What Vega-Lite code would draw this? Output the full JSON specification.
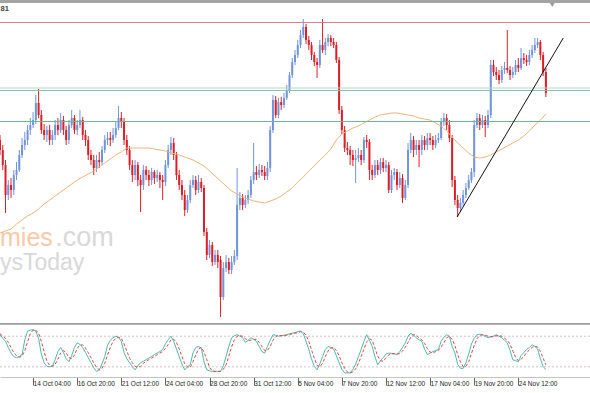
{
"$schema": "https://vega.github.io/schema/vega-lite/v6.json",
"padding": 0,
"background": "white",
"spacing": 0,
"config": {"view": {"stroke": null}, "scale": {"continuousPadding": 0}},
"datasets": {
"bars": [
{"i":0,"o":1.3260,"h":1.3265,"l":1.3245,"c":1.3250,"ma":1.3167,"k":83,"d":85},
{"i":1,"o":1.3250,"h":1.3255,"l":1.3230,"c":1.3235,"k":76,"d":80},
{"i":2,"o":1.3235,"h":1.3240,"l":1.3187,"c":1.3205,"ma":1.3169,"k":70,"d":76},
{"i":3,"o":1.3205,"h":1.3220,"l":1.3200,"c":1.3215,"k":58,"d":68},
{"i":4,"o":1.3215,"h":1.3222,"l":1.3202,"c":1.3210,"ma":1.3171,"k":47,"d":58},
{"i":5,"o":1.3210,"h":1.3230,"l":1.3205,"c":1.3225,"k":40,"d":48},
{"i":6,"o":1.3225,"h":1.3238,"l":1.3220,"c":1.3230,"ma":1.3176,"k":38,"d":42},
{"i":7,"o":1.3230,"h":1.3250,"l":1.3228,"c":1.3245,"k":40,"d":39},
{"i":8,"o":1.3245,"h":1.3262,"l":1.3242,"c":1.3255,"ma":1.3180,"k":44,"d":41},
{"i":9,"o":1.3255,"h":1.3268,"l":1.3250,"c":1.3260,"k":73,"d":52},
{"i":10,"o":1.3260,"h":1.3275,"l":1.3255,"c":1.3270,"ma":1.3184,"k":90,"d":69},
{"i":11,"o":1.3270,"h":1.3282,"l":1.3265,"c":1.3275,"k":92,"d":85},
{"i":12,"o":1.3275,"h":1.3288,"l":1.3272,"c":1.3280,"ma":1.3187,"k":93,"d":92},
{"i":13,"o":1.3280,"h":1.3305,"l":1.3276,"c":1.3297,"k":90,"d":92},
{"i":14,"o":1.3297,"h":1.3311,"l":1.3282,"c":1.3285,"ma":1.3191,"k":76,"d":86},
{"i":15,"o":1.3285,"h":1.3290,"l":1.3266,"c":1.3270,"k":45,"d":70},
{"i":16,"o":1.3270,"h":1.3276,"l":1.3260,"c":1.3265,"ma":1.3196,"k":28,"d":50},
{"i":17,"o":1.3265,"h":1.3274,"l":1.3258,"c":1.3270,"k":21,"d":31},
{"i":18,"o":1.3270,"h":1.3275,"l":1.3255,"c":1.3260,"ma":1.3200,"k":20,"d":23},
{"i":19,"o":1.3260,"h":1.3270,"l":1.3255,"c":1.3265,"k":21,"d":21},
{"i":20,"o":1.3265,"h":1.3280,"l":1.3260,"c":1.3275,"ma":1.3204,"k":34,"d":25},
{"i":21,"o":1.3275,"h":1.3282,"l":1.3265,"c":1.3270,"k":50,"d":35},
{"i":22,"o":1.3270,"h":1.3287,"l":1.3267,"c":1.3280,"ma":1.3208,"k":58,"d":47},
{"i":23,"o":1.3280,"h":1.3284,"l":1.3265,"c":1.3270,"k":48,"d":52},
{"i":24,"o":1.3270,"h":1.3274,"l":1.3255,"c":1.3260,"ma":1.3212,"k":36,"d":47},
{"i":25,"o":1.3260,"h":1.3280,"l":1.3256,"c":1.3275,"k":30,"d":38},
{"i":26,"o":1.3275,"h":1.3290,"l":1.3272,"c":1.3282,"ma":1.3216,"k":42,"d":36},
{"i":27,"o":1.3282,"h":1.3285,"l":1.3266,"c":1.3270,"k":58,"d":43},
{"i":28,"o":1.3270,"h":1.3280,"l":1.3265,"c":1.3275,"ma":1.3220,"k":67,"d":56},
{"i":29,"o":1.3275,"h":1.3290,"l":1.3272,"c":1.3280,"k":64,"d":63},
{"i":30,"o":1.3280,"h":1.3283,"l":1.3260,"c":1.3265,"ma":1.3223,"k":58,"d":63},
{"i":31,"o":1.3265,"h":1.3270,"l":1.3254,"c":1.3260,"k":48,"d":57},
{"i":32,"o":1.3260,"h":1.3264,"l":1.3240,"c":1.3245,"ma":1.3226,"k":38,"d":48},
{"i":33,"o":1.3245,"h":1.3250,"l":1.3235,"c":1.3240,"k":28,"d":38},
{"i":34,"o":1.3240,"h":1.3245,"l":1.3225,"c":1.3232,"ma":1.3229,"k":18,"d":28},
{"i":35,"o":1.3232,"h":1.3245,"l":1.3228,"c":1.3240,"k":11,"d":19},
{"i":36,"o":1.3240,"h":1.3248,"l":1.3232,"c":1.3238,"ma":1.3233,"k":14,"d":14},
{"i":37,"o":1.3238,"h":1.3254,"l":1.3235,"c":1.3250,"k":26,"d":17},
{"i":38,"o":1.3250,"h":1.3265,"l":1.3247,"c":1.3260,"ma":1.3237,"k":40,"d":27},
{"i":39,"o":1.3260,"h":1.3268,"l":1.3255,"c":1.3262,"k":62,"d":43},
{"i":40,"o":1.3262,"h":1.3268,"l":1.3254,"c":1.3260,"ma":1.3241,"k":72,"d":58},
{"i":41,"o":1.3260,"h":1.3272,"l":1.3257,"c":1.3265,"k":77,"d":70},
{"i":42,"o":1.3265,"h":1.3278,"l":1.3262,"c":1.3272,"ma":1.3245,"k":80,"d":76},
{"i":43,"o":1.3272,"h":1.3294,"l":1.3270,"c":1.3282,"k":78,"d":78},
{"i":44,"o":1.3282,"h":1.3288,"l":1.3272,"c":1.3278,"ma":1.3248,"k":70,"d":76},
{"i":45,"o":1.3278,"h":1.3282,"l":1.3255,"c":1.3260,"k":48,"d":65},
{"i":46,"o":1.3260,"h":1.3265,"l":1.3245,"c":1.3250,"ma":1.3252,"k":36,"d":51},
{"i":47,"o":1.3250,"h":1.3254,"l":1.3230,"c":1.3235,"k":28,"d":37},
{"i":48,"o":1.3235,"h":1.3240,"l":1.3218,"c":1.3225,"ma":1.3252,"k":20,"d":28},
{"i":49,"o":1.3225,"h":1.3240,"l":1.3220,"c":1.3235,"k":14,"d":21},
{"i":50,"o":1.3235,"h":1.3238,"l":1.3214,"c":1.3220,"ma":1.3252,"k":22,"d":19},
{"i":51,"o":1.3220,"h":1.3225,"l":1.3188,"c":1.3215,"k":28,"d":21},
{"i":52,"o":1.3215,"h":1.3235,"l":1.3210,"c":1.3230,"ma":1.3252,"k":31,"d":27},
{"i":53,"o":1.3230,"h":1.3234,"l":1.3220,"c":1.3225,"k":34,"d":31},
{"i":54,"o":1.3225,"h":1.3230,"l":1.3214,"c":1.3220,"ma":1.3252,"k":37,"d":34},
{"i":55,"o":1.3220,"h":1.3232,"l":1.3215,"c":1.3228,"k":40,"d":37},
{"i":56,"o":1.3228,"h":1.3230,"l":1.3216,"c":1.3222,"ma":1.3251,"k":44,"d":40},
{"i":57,"o":1.3222,"h":1.3230,"l":1.3218,"c":1.3225,"k":47,"d":44},
{"i":58,"o":1.3225,"h":1.3228,"l":1.3212,"c":1.3220,"ma":1.3250,"k":50,"d":47},
{"i":59,"o":1.3220,"h":1.3225,"l":1.3200,"c":1.3218,"k":54,"d":50},
{"i":60,"o":1.3218,"h":1.3240,"l":1.3214,"c":1.3235,"ma":1.3249,"k":65,"d":56},
{"i":61,"o":1.3235,"h":1.3255,"l":1.3232,"c":1.3250,"k":73,"d":64},
{"i":62,"o":1.3250,"h":1.3263,"l":1.3245,"c":1.3257,"ma":1.3247,"k":80,"d":73},
{"i":63,"o":1.3257,"h":1.3262,"l":1.3240,"c":1.3245,"k":70,"d":74},
{"i":64,"o":1.3245,"h":1.3248,"l":1.3220,"c":1.3225,"ma":1.3246,"k":55,"d":68},
{"i":65,"o":1.3225,"h":1.3230,"l":1.3210,"c":1.3215,"k":40,"d":55},
{"i":66,"o":1.3215,"h":1.3220,"l":1.3200,"c":1.3205,"ma":1.3244,"k":25,"d":40},
{"i":67,"o":1.3205,"h":1.3210,"l":1.3184,"c":1.3190,"k":14,"d":26},
{"i":68,"o":1.3190,"h":1.3205,"l":1.3187,"c":1.3200,"ma":1.3242,"k":20,"d":20},
{"i":69,"o":1.3200,"h":1.3220,"l":1.3197,"c":1.3215,"k":24,"d":19},
{"i":70,"o":1.3215,"h":1.3225,"l":1.3212,"c":1.3220,"ma":1.3240,"k":47,"d":30},
{"i":71,"o":1.3220,"h":1.3224,"l":1.3205,"c":1.3210,"k":58,"d":43},
{"i":72,"o":1.3210,"h":1.3225,"l":1.3207,"c":1.3218,"ma":1.3237,"k":60,"d":55},
{"i":73,"o":1.3218,"h":1.3222,"l":1.3208,"c":1.3212,"k":57,"d":58},
{"i":74,"o":1.3212,"h":1.3215,"l":1.3164,"c":1.3168,"ma":1.3234,"k":30,"d":49},
{"i":75,"o":1.3168,"h":1.3172,"l":1.3140,"c":1.3145,"k":14,"d":34},
{"i":76,"o":1.3145,"h":1.3160,"l":1.3142,"c":1.3155,"ma":1.3229,"k":12,"d":19},
{"i":77,"o":1.3155,"h":1.3158,"l":1.3134,"c":1.3138,"k":11,"d":12},
{"i":78,"o":1.3138,"h":1.3150,"l":1.3135,"c":1.3145,"ma":1.3224,"k":11,"d":11},
{"i":79,"o":1.3145,"h":1.3150,"l":1.3132,"c":1.3138,"k":11,"d":11},
{"i":80,"o":1.3140,"h":1.3144,"l":1.3083,"c":1.3103,"ma":1.3219,"k":11,"d":11},
{"i":81,"o":1.3103,"h":1.3138,"l":1.3100,"c":1.3132,"k":22,"d":15},
{"i":82,"o":1.3132,"h":1.3145,"l":1.3128,"c":1.3138,"ma":1.3214,"k":40,"d":24},
{"i":83,"o":1.3138,"h":1.3142,"l":1.3126,"c":1.3130,"k":60,"d":41},
{"i":84,"o":1.3130,"h":1.3144,"l":1.3126,"c":1.3138,"ma":1.3209,"k":77,"d":59},
{"i":85,"o":1.3138,"h":1.3150,"l":1.3135,"c":1.3144,"k":81,"d":73},
{"i":86,"o":1.3144,"h":1.3232,"l":1.3140,"c":1.3195,"ma":1.3206,"k":83,"d":80},
{"i":87,"o":1.3195,"h":1.3208,"l":1.3190,"c":1.3202,"k":80,"d":81},
{"i":88,"o":1.3202,"h":1.3206,"l":1.3190,"c":1.3195,"ma":1.3203,"k":77,"d":80},
{"i":89,"o":1.3195,"h":1.3205,"l":1.3192,"c":1.3200,"k":68,"d":75},
{"i":90,"o":1.3200,"h":1.3210,"l":1.3196,"c":1.3205,"ma":1.3201,"k":72,"d":72},
{"i":91,"o":1.3205,"h":1.3224,"l":1.3202,"c":1.3220,"k":77,"d":72},
{"i":92,"o":1.3220,"h":1.3257,"l":1.3216,"c":1.3228,"ma":1.3199,"k":74,"d":74},
{"i":93,"o":1.3228,"h":1.3234,"l":1.3220,"c":1.3225,"k":70,"d":74},
{"i":94,"o":1.3225,"h":1.3236,"l":1.3222,"c":1.3230,"ma":1.3198,"k":60,"d":68},
{"i":95,"o":1.3230,"h":1.3235,"l":1.3224,"c":1.3228,"k":50,"d":60},
{"i":96,"o":1.3228,"h":1.3234,"l":1.3220,"c":1.3224,"ma":1.3197,"k":47,"d":52},
{"i":97,"o":1.3224,"h":1.3238,"l":1.3220,"c":1.3232,"k":60,"d":52},
{"i":98,"o":1.3232,"h":1.3274,"l":1.3228,"c":1.3270,"ma":1.3199,"k":72,"d":60},
{"i":99,"o":1.3270,"h":1.3305,"l":1.3267,"c":1.3300,"k":83,"d":72},
{"i":100,"o":1.3300,"h":1.3304,"l":1.3282,"c":1.3285,"ma":1.3201,"k":82,"d":79},
{"i":101,"o":1.3285,"h":1.3302,"l":1.3282,"c":1.3298,"k":80,"d":82},
{"i":102,"o":1.3298,"h":1.3303,"l":1.3290,"c":1.3295,"ma":1.3204,"k":81,"d":81},
{"i":103,"o":1.3295,"h":1.3307,"l":1.3292,"c":1.3302,"k":82,"d":81},
{"i":104,"o":1.3302,"h":1.3315,"l":1.3300,"c":1.3310,"ma":1.3208,"k":83,"d":82},
{"i":105,"o":1.3310,"h":1.3328,"l":1.3307,"c":1.3325,"k":85,"d":83},
{"i":106,"o":1.3325,"h":1.3342,"l":1.3322,"c":1.3338,"ma":1.3212,"k":86,"d":85},
{"i":107,"o":1.3338,"h":1.3350,"l":1.3335,"c":1.3345,"k":87,"d":86},
{"i":108,"o":1.3345,"h":1.3360,"l":1.3342,"c":1.3355,"ma":1.3218,"k":89,"d":87},
{"i":109,"o":1.3355,"h":1.3370,"l":1.3352,"c":1.3365,"k":90,"d":89},
{"i":110,"o":1.3365,"h":1.3381,"l":1.3362,"c":1.3373,"ma":1.3223,"k":85,"d":88},
{"i":111,"o":1.3373,"h":1.3376,"l":1.3356,"c":1.3360,"k":70,"d":82},
{"i":112,"o":1.3360,"h":1.3364,"l":1.3350,"c":1.3355,"ma":1.3229,"k":54,"d":70},
{"i":113,"o":1.3355,"h":1.3358,"l":1.3340,"c":1.3345,"k":35,"d":53},
{"i":114,"o":1.3345,"h":1.3348,"l":1.3334,"c":1.3338,"ma":1.3234,"k":21,"d":37},
{"i":115,"o":1.3338,"h":1.3342,"l":1.3322,"c":1.3335,"k":14,"d":23},
{"i":116,"o":1.3335,"h":1.3360,"l":1.3332,"c":1.3355,"ma":1.3240,"k":26,"d":20},
{"i":117,"o":1.3355,"h":1.3381,"l":1.3347,"c":1.3350,"k":40,"d":27},
{"i":118,"o":1.3350,"h":1.3362,"l":1.3345,"c":1.3358,"ma":1.3245,"k":54,"d":40},
{"i":119,"o":1.3358,"h":1.3366,"l":1.3354,"c":1.3362,"k":60,"d":51},
{"i":120,"o":1.3362,"h":1.3365,"l":1.3354,"c":1.3358,"ma":1.3251,"k":58,"d":57},
{"i":121,"o":1.3358,"h":1.3362,"l":1.3352,"c":1.3355,"k":55,"d":58},
{"i":122,"o":1.3355,"h":1.3358,"l":1.3337,"c":1.3340,"ma":1.3260,"k":42,"d":52},
{"i":123,"o":1.3340,"h":1.3343,"l":1.3286,"c":1.3290,"k":28,"d":42},
{"i":124,"o":1.3290,"h":1.3294,"l":1.3266,"c":1.3270,"ma":1.3266,"k":15,"d":28},
{"i":125,"o":1.3270,"h":1.3274,"l":1.3248,"c":1.3252,"k":8,"d":17},
{"i":126,"o":1.3252,"h":1.3258,"l":1.3245,"c":1.3250,"ma":1.3269,"k":8,"d":10},
{"i":127,"o":1.3250,"h":1.3254,"l":1.3235,"c":1.3245,"k":8,"d":8},
{"i":128,"o":1.3245,"h":1.3250,"l":1.3234,"c":1.3240,"ma":1.3272,"k":15,"d":10},
{"i":129,"o":1.3240,"h":1.3250,"l":1.3217,"c":1.3242,"k":25,"d":16},
{"i":130,"o":1.3242,"h":1.3252,"l":1.3238,"c":1.3245,"ma":1.3274,"k":40,"d":27},
{"i":131,"o":1.3245,"h":1.3250,"l":1.3235,"c":1.3240,"k":54,"d":40},
{"i":132,"o":1.3240,"h":1.3263,"l":1.3237,"c":1.3260,"ma":1.3277,"k":70,"d":55},
{"i":133,"o":1.3260,"h":1.3265,"l":1.3252,"c":1.3258,"k":83,"d":69},
{"i":134,"o":1.3258,"h":1.3261,"l":1.3220,"c":1.3230,"ma":1.3280,"k":72,"d":75},
{"i":135,"o":1.3230,"h":1.3235,"l":1.3220,"c":1.3225,"k":60,"d":72},
{"i":136,"o":1.3225,"h":1.3240,"l":1.3222,"c":1.3235,"ma":1.3283,"k":40,"d":57},
{"i":137,"o":1.3235,"h":1.3240,"l":1.3225,"c":1.3230,"k":24,"d":41},
{"i":138,"o":1.3230,"h":1.3242,"l":1.3226,"c":1.3238,"ma":1.3285,"k":32,"d":32},
{"i":139,"o":1.3238,"h":1.3242,"l":1.3228,"c":1.3232,"k":38,"d":31},
{"i":140,"o":1.3232,"h":1.3240,"l":1.3228,"c":1.3235,"ma":1.3286,"k":45,"d":38},
{"i":141,"o":1.3235,"h":1.3238,"l":1.3207,"c":1.3210,"k":47,"d":43},
{"i":142,"o":1.3210,"h":1.3230,"l":1.3207,"c":1.3225,"ma":1.3287,"k":46,"d":46},
{"i":143,"o":1.3225,"h":1.3232,"l":1.3220,"c":1.3228,"k":45,"d":46},
{"i":144,"o":1.3228,"h":1.3231,"l":1.3210,"c":1.3215,"ma":1.3287,"k":44,"d":45},
{"i":145,"o":1.3215,"h":1.3228,"l":1.3212,"c":1.3222,"k":50,"d":46},
{"i":146,"o":1.3222,"h":1.3226,"l":1.3197,"c":1.3202,"ma":1.3286,"k":58,"d":51},
{"i":147,"o":1.3202,"h":1.3220,"l":1.3200,"c":1.3215,"k":67,"d":58},
{"i":148,"o":1.3215,"h":1.3257,"l":1.3212,"c":1.3250,"ma":1.3285,"k":80,"d":68},
{"i":149,"o":1.3250,"h":1.3267,"l":1.3247,"c":1.3260,"k":86,"d":78},
{"i":150,"o":1.3260,"h":1.3264,"l":1.3243,"c":1.3250,"ma":1.3284,"k":82,"d":83},
{"i":151,"o":1.3250,"h":1.3260,"l":1.3245,"c":1.3255,"k":77,"d":82},
{"i":152,"o":1.3255,"h":1.3260,"l":1.3233,"c":1.3250,"ma":1.3282,"k":73,"d":77},
{"i":153,"o":1.3250,"h":1.3265,"l":1.3245,"c":1.3260,"k":70,"d":73},
{"i":154,"o":1.3260,"h":1.3264,"l":1.3250,"c":1.3255,"ma":1.3281,"k":55,"d":66},
{"i":155,"o":1.3255,"h":1.3267,"l":1.3250,"c":1.3262,"k":44,"d":56},
{"i":156,"o":1.3262,"h":1.3267,"l":1.3255,"c":1.3260,"ma":1.3280,"k":47,"d":49},
{"i":157,"o":1.3260,"h":1.3264,"l":1.3250,"c":1.3255,"k":50,"d":47},
{"i":158,"o":1.3255,"h":1.3265,"l":1.3252,"c":1.3260,"ma":1.3277,"k":52,"d":50},
{"i":159,"o":1.3260,"h":1.3267,"l":1.3257,"c":1.3262,"k":54,"d":52},
{"i":160,"o":1.3262,"h":1.3282,"l":1.3260,"c":1.3278,"ma":1.3274,"k":70,"d":59},
{"i":161,"o":1.3278,"h":1.3287,"l":1.3274,"c":1.3282,"k":78,"d":67},
{"i":162,"o":1.3282,"h":1.3286,"l":1.3270,"c":1.3275,"ma":1.3269,"k":83,"d":77},
{"i":163,"o":1.3275,"h":1.3280,"l":1.3258,"c":1.3262,"k":80,"d":80},
{"i":164,"o":1.3262,"h":1.3265,"l":1.3213,"c":1.3220,"ma":1.3263,"k":60,"d":74},
{"i":165,"o":1.3220,"h":1.3224,"l":1.3195,"c":1.3200,"k":47,"d":62},
{"i":166,"o":1.3200,"h":1.3205,"l":1.3183,"c":1.3192,"ma":1.3257,"k":25,"d":44},
{"i":167,"o":1.3192,"h":1.3202,"l":1.3188,"c":1.3197,"k":17,"d":30},
{"i":168,"o":1.3197,"h":1.3210,"l":1.3194,"c":1.3205,"ma":1.3252,"k":17,"d":20},
{"i":169,"o":1.3205,"h":1.3217,"l":1.3202,"c":1.3212,"k":28,"d":21},
{"i":170,"o":1.3212,"h":1.3225,"l":1.3210,"c":1.3220,"ma":1.3247,"k":45,"d":30},
{"i":171,"o":1.3220,"h":1.3232,"l":1.3217,"c":1.3228,"k":65,"d":46},
{"i":172,"o":1.3228,"h":1.3280,"l":1.3223,"c":1.3275,"ma":1.3243,"k":76,"d":62},
{"i":173,"o":1.3275,"h":1.3287,"l":1.3272,"c":1.3282,"k":83,"d":75},
{"i":174,"o":1.3282,"h":1.3286,"l":1.3270,"c":1.3275,"ma":1.3242,"k":84,"d":81},
{"i":175,"o":1.3275,"h":1.3285,"l":1.3272,"c":1.3280,"k":83,"d":83},
{"i":176,"o":1.3280,"h":1.3284,"l":1.3263,"c":1.3275,"ma":1.3243,"k":80,"d":82},
{"i":177,"o":1.3275,"h":1.3290,"l":1.3272,"c":1.3285,"k":77,"d":80},
{"i":178,"o":1.3285,"h":1.3340,"l":1.3282,"c":1.3335,"ma":1.3245,"k":79,"d":79},
{"i":179,"o":1.3335,"h":1.3340,"l":1.3324,"c":1.3328,"k":80,"d":79},
{"i":180,"o":1.3328,"h":1.3333,"l":1.3320,"c":1.3325,"ma":1.3248,"k":83,"d":81},
{"i":181,"o":1.3325,"h":1.3330,"l":1.3316,"c":1.3320,"k":80,"d":81},
{"i":182,"o":1.3320,"h":1.3334,"l":1.3317,"c":1.3330,"ma":1.3251,"k":77,"d":80},
{"i":183,"o":1.3330,"h":1.3338,"l":1.3326,"c":1.3332,"k":72,"d":76},
{"i":184,"o":1.3332,"h":1.3370,"l":1.3327,"c":1.3330,"ma":1.3254,"k":67,"d":72},
{"i":185,"o":1.3330,"h":1.3334,"l":1.3320,"c":1.3325,"k":52,"d":64},
{"i":186,"o":1.3325,"h":1.3333,"l":1.3322,"c":1.3328,"ma":1.3257,"k":34,"d":51},
{"i":187,"o":1.3328,"h":1.3340,"l":1.3325,"c":1.3335,"k":32,"d":39},
{"i":188,"o":1.3335,"h":1.3342,"l":1.3328,"c":1.3332,"ma":1.3260,"k":30,"d":32},
{"i":189,"o":1.3332,"h":1.3352,"l":1.3330,"c":1.3342,"k":42,"d":35},
{"i":190,"o":1.3342,"h":1.3347,"l":1.3336,"c":1.3340,"ma":1.3264,"k":48,"d":40},
{"i":191,"o":1.3340,"h":1.3345,"l":1.3334,"c":1.3338,"k":54,"d":48},
{"i":192,"o":1.3338,"h":1.3350,"l":1.3335,"c":1.3345,"ma":1.3269,"k":58,"d":53},
{"i":193,"o":1.3345,"h":1.3355,"l":1.3342,"c":1.3350,"k":63,"d":58},
{"i":194,"o":1.3350,"h":1.3362,"l":1.3347,"c":1.3355,"ma":1.3275,"k":60,"d":60},
{"i":195,"o":1.3355,"h":1.3362,"l":1.3352,"c":1.3358,"k":55,"d":59},
{"i":196,"o":1.3358,"h":1.3360,"l":1.3340,"c":1.3345,"ma":1.3280,"k":36,"d":50},
{"i":197,"o":1.3345,"h":1.3348,"l":1.3324,"c":1.3328,"k":20,"d":37},
{"i":198,"o":1.3328,"h":1.3332,"l":1.3303,"c":1.3307,"ma":1.3286,"k":15,"d":24}
],
"trend": [{"i":165.8,"p":1.3183},{"i":204.3,"p":1.3362}],
"levels": [{"i":0,"lv":80,"g":"hi"},{"i":214,"lv":80,"g":"hi"},{"i":0,"lv":20,"g":"lo"},{"i":214,"lv":20,"g":"lo"}],
"sep": [{"i":0,"lv":104.5},{"i":214,"lv":104.5}]
},
"vconcat": [
{
"width": 590, "height": 323,
"data": {"name": "bars"},
"layer": [
{"data": {"values": [{}]}, "mark": {"type": "text", "clip": true, "align": "left", "baseline": "alphabetic", "fontSize": 25, "font": "Liberation Sans", "color": "#f7c9a8", "text": "mies"},
 "encoding": {"x": {"datum": 0, "type": "quantitative", "scale": {"domain": [0, 214], "nice": false, "zero": false, "padding": 0}, "axis": null}, "y": {"datum": 1.3154, "type": "quantitative", "scale": {"domain": [1.3077, 1.34], "nice": false, "zero": false}, "axis": null}}},
{"data": {"values": [{}]}, "mark": {"type": "text", "clip": true, "align": "left", "baseline": "alphabetic", "fontSize": 27, "font": "Liberation Sans", "color": "#d8d8d8", "text": ".com"},
 "encoding": {"x": {"datum": 20.0, "type": "quantitative", "scale": {"domain": [0, 214], "nice": false, "zero": false, "padding": 0}, "axis": null}, "y": {"datum": 1.3154, "type": "quantitative", "scale": {"domain": [1.3077, 1.34], "nice": false, "zero": false}, "axis": null}}},
{"data": {"values": [{}]}, "mark": {"type": "text", "clip": true, "align": "left", "baseline": "alphabetic", "fontSize": 23, "font": "Liberation Sans", "color": "#d8d8d8", "text": "ysToday"},
 "encoding": {"x": {"datum": 0, "type": "quantitative", "scale": {"domain": [0, 214], "nice": false, "zero": false, "padding": 0}, "axis": null}, "y": {"datum": 1.3130, "type": "quantitative", "scale": {"domain": [1.3077, 1.34], "nice": false, "zero": false}, "axis": null}}},
{"mark": {"type": "rule", "clip": true, "strokeWidth": 1},
 "encoding": {
  "x": {"field": "i", "type": "quantitative", "scale": {"domain": [0, 214], "nice": false, "zero": false, "padding": 0}, "axis": null},
  "y": {"field": "l", "type": "quantitative", "scale": {"domain": [1.3077, 1.34], "nice": false, "zero": false}, "axis": null},
  "y2": {"field": "h"},
  "color": {"condition": {"test": "datum.c < datum.o", "value": "#dc1f26"}, "value": "#7094da"}}},
{"mark": {"type": "bar", "clip": true, "width": 2},
 "encoding": {
  "x": {"field": "i", "type": "quantitative", "scale": {"domain": [0, 214], "nice": false, "zero": false, "padding": 0}, "axis": null},
  "y": {"field": "o", "type": "quantitative", "scale": {"domain": [1.3077, 1.34], "nice": false, "zero": false}, "axis": null},
  "y2": {"field": "c"},
  "color": {"condition": {"test": "datum.c < datum.o", "value": "#dc1f26"}, "value": "#7094da"}}},
{"transform": [{"filter": "isValid(datum.ma)"}],
 "mark": {"type": "line", "clip": true, "color": "#f0b479", "strokeWidth": 1},
 "encoding": {
  "x": {"field": "i", "type": "quantitative", "scale": {"domain": [0, 214], "nice": false, "zero": false, "padding": 0}, "axis": null},
  "y": {"field": "ma", "type": "quantitative", "scale": {"domain": [1.3077, 1.34], "nice": false, "zero": false}, "axis": null}}},
{"data": {"values": [{}]}, "mark": {"type": "rule", "clip": true, "color": "#d9808a", "strokeWidth": 1},
 "encoding": {"y": {"datum": 1.33775, "type": "quantitative", "scale": {"domain": [1.3077, 1.34], "nice": false, "zero": false}, "axis": null}}},
{"data": {"values": [{}]}, "mark": {"type": "rule", "clip": true, "color": "#b4d6c8", "strokeWidth": 1},
 "encoding": {"y": {"datum": 1.3312, "type": "quantitative", "scale": {"domain": [1.3077, 1.34], "nice": false, "zero": false}, "axis": null}}},
{"data": {"values": [{}]}, "mark": {"type": "rule", "clip": true, "color": "#86c2ae", "strokeWidth": 1},
 "encoding": {"y": {"datum": 1.33095, "type": "quantitative", "scale": {"domain": [1.3077, 1.34], "nice": false, "zero": false}, "axis": null}}},
{"data": {"values": [{}]}, "mark": {"type": "rule", "clip": true, "color": "#6bb88e", "strokeWidth": 1},
 "encoding": {"y": {"datum": 1.32785, "type": "quantitative", "scale": {"domain": [1.3077, 1.34], "nice": false, "zero": false}, "axis": null}}},
{"data": {"name": "trend"}, "mark": {"type": "line", "clip": true, "color": "#111111", "strokeWidth": 1},
 "encoding": {
  "x": {"field": "i", "type": "quantitative", "scale": {"domain": [0, 214], "nice": false, "zero": false, "padding": 0}, "axis": null},
  "y": {"field": "p", "type": "quantitative", "scale": {"domain": [1.3077, 1.34], "nice": false, "zero": false}, "axis": null}}},
{"data": {"values": [{}]}, "mark": {"type": "point", "clip": true, "shape": "triangle-down", "filled": true, "size": 22, "color": "#9a9a9a", "opacity": 1},
 "encoding": {"x": {"datum": 200.3, "type": "quantitative", "scale": {"domain": [0, 214], "nice": false, "zero": false, "padding": 0}, "axis": null}, "y": {"datum": 1.3395, "type": "quantitative", "scale": {"domain": [1.3077, 1.34], "nice": false, "zero": false}, "axis": null}}},
{"data": {"values": [{}]}, "mark": {"type": "text", "clip": true, "align": "left", "baseline": "middle", "fontSize": 7.5, "fontWeight": "bold", "font": "Liberation Sans", "color": "#444444", "text": "81"},
 "encoding": {"x": {"datum": 0.2, "type": "quantitative", "scale": {"domain": [0, 214], "nice": false, "zero": false, "padding": 0}, "axis": null}, "y": {"datum": 1.3391, "type": "quantitative", "scale": {"domain": [1.3077, 1.34], "nice": false, "zero": false}, "axis": null}}},
{"data": {"values": [{}]}, "mark": {"type": "rule", "clip": true, "color": "#a4a4a4", "strokeWidth": 3},
 "encoding": {"y": {"datum": 1.33985, "type": "quantitative", "scale": {"domain": [1.3077, 1.34], "nice": false, "zero": false}, "axis": null}}}
]
},
{
"width": 590, "height": 54,
"data": {"name": "bars"},
"encoding": {
  "x": {"field": "i", "type": "quantitative", "scale": {"domain": [0, 214], "nice": false, "zero": false, "padding": 0},
   "axis": {"values": [12, 28, 44, 60, 76, 92, 108, 124, 140, 156, 172, 188],
    "labelExpr": "['14 Oct 04:00','16 Oct 20:00','21 Oct 12:00','24 Oct 04:00','28 Oct 20:00','31 Oct 12:00','5 Nov 04:00','7 Nov 20:00','12 Nov 12:00','17 Nov 04:00','19 Nov 20:00','24 Nov 12:00'][round((datum.value-12)/16)]",
    "title": null, "grid": false, "domain": true, "domainColor": "#c4c4c4", "domainWidth": 1,
    "ticks": true, "tickSize": 8, "tickColor": "#666666", "tickWidth": 1,
    "labelAlign": "left", "labelBaseline": "top", "labelPadding": -4.5, "labelDx": 0.5,
    "labelFontSize": 6.5, "labelFont": "Liberation Sans", "labelColor": "#222222",
    "labelOverlap": false, "labelFlush": false, "labelBound": false}}
},
"layer": [
{"data": {"name": "levels"}, "mark": {"type": "line", "clip": true, "color": "#d4c2c2", "strokeWidth": 1, "strokeDash": [2, 2]},
 "encoding": {"detail": {"field": "g"},
  "y": {"field": "lv", "type": "quantitative", "scale": {"domain": [0, 106], "nice": false, "zero": false}, "axis": null}}},
{"data": {"name": "sep"}, "mark": {"type": "line", "clip": true, "color": "#9c9c9c", "strokeWidth": 2},
 "encoding": {
  "y": {"field": "lv", "type": "quantitative", "scale": {"domain": [0, 106], "nice": false, "zero": false}, "axis": null}}},
{"mark": {"type": "line", "clip": true, "color": "#4fb8ac", "strokeWidth": 1},
 "encoding": {
  "y": {"field": "k", "type": "quantitative", "scale": {"domain": [0, 106], "nice": false, "zero": false}, "axis": null}}},
{"mark": {"type": "line", "clip": true, "color": "#d94848", "strokeWidth": 1, "strokeDash": [3, 2]},
 "encoding": {
  "y": {"field": "d", "type": "quantitative", "scale": {"domain": [0, 106], "nice": false, "zero": false}, "axis": null}}}
]
}
]
}
